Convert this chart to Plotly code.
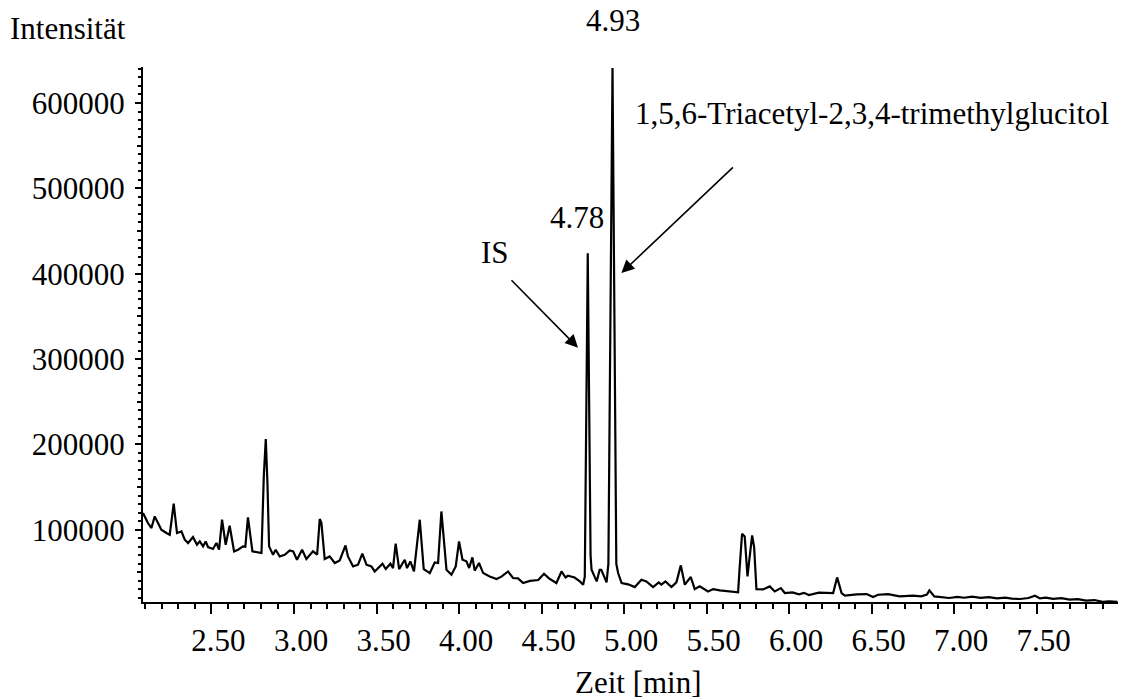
import plotly.graph_objects as go

# Chromatogram (GC) – retention time in minutes vs. detector intensity
zeit_min = [
    2.085, 2.115, 2.136, 2.156, 2.176, 2.196, 2.227, 2.247, 2.271, 2.291,
    2.318, 2.338, 2.358, 2.388, 2.412, 2.429, 2.449, 2.465, 2.479, 2.509,
    2.530, 2.546, 2.564, 2.586, 2.610, 2.637, 2.661, 2.691, 2.705, 2.721,
    2.748, 2.772, 2.803, 2.817, 2.829, 2.839, 2.849, 2.873, 2.889, 2.913,
    2.944, 2.974, 2.995, 3.018, 3.049, 3.075, 3.115, 3.140, 3.156, 3.166,
    3.186, 3.216, 3.247, 3.277, 3.312, 3.327, 3.358, 3.388, 3.414, 3.439,
    3.469, 3.489, 3.536, 3.556, 3.584, 3.600, 3.616, 3.637, 3.671, 3.685,
    3.705, 3.727, 3.762, 3.786, 3.823, 3.853, 3.873, 3.893, 3.924, 3.954,
    3.980, 4.000, 4.021, 4.045, 4.061, 4.081, 4.095, 4.121, 4.146, 4.186,
    4.227, 4.257, 4.297, 4.327, 4.358, 4.388, 4.430, 4.480, 4.515, 4.545,
    4.590, 4.621, 4.645, 4.660, 4.700, 4.732, 4.752, 4.762, 4.780, 4.797,
    4.803, 4.834, 4.852, 4.862, 4.894, 4.905, 4.930, 4.953, 4.964, 4.985,
    5.025, 5.065, 5.105, 5.135, 5.176, 5.210, 5.226, 5.251, 5.287, 5.317,
    5.344, 5.368, 5.404, 5.428, 5.458, 5.509, 5.540, 5.580, 5.661, 5.691,
    5.701, 5.715, 5.731, 5.748, 5.758, 5.776, 5.788, 5.802, 5.842, 5.883,
    5.913, 5.950, 5.974, 6.020, 6.060, 6.090, 6.120, 6.180, 6.267, 6.291,
    6.318, 6.338, 6.410, 6.470, 6.509, 6.539, 6.600, 6.670, 6.750, 6.800,
    6.835, 6.850, 6.880, 6.930, 6.970, 7.020, 7.060, 7.110, 7.160, 7.210,
    7.260, 7.310, 7.350, 7.400, 7.450, 7.490, 7.520, 7.555, 7.600, 7.650,
    7.700, 7.750, 7.800, 7.850, 7.900, 7.940, 7.990,
]
intensitaet = [
    119600, 107800, 102000, 115600, 107800, 100000, 96100, 94100, 130500, 96100,
    98000, 88300, 84400, 91400, 82400, 86300, 80500, 86300, 79700, 77400,
    84400, 76600, 111700, 82400, 104700, 74600, 76600, 80500, 80000, 114400,
    74600, 73400, 72700, 162500, 206300, 154700, 80500, 70700, 76600, 68700,
    70700, 75700, 74600, 64800, 76600, 65600, 74600, 70700, 112500, 108000,
    65600, 68700, 61000, 64000, 81600, 68700, 57000, 59000, 71900, 59000,
    57000, 51100, 60200, 54000, 60200, 55000, 83600, 53900, 64800, 55000,
    62900, 51100, 111700, 53900, 49200, 61700, 61000, 121400, 53100, 47300,
    57000, 86300, 64800, 63000, 55100, 67500, 52000, 61000, 49200, 45300,
    42200, 45000, 51100, 43400, 43000, 37500, 40000, 41000, 48400, 43000,
    37500, 51100, 44000, 46000, 44000, 39400, 35600, 45000, 424000, 70000,
    53100, 39400, 53100, 53100, 38300, 60000, 641000, 60000, 49200, 37500,
    36000, 32800, 41400, 39400, 32800, 38300, 35600, 39400, 32800, 38300,
    58200, 35600, 44600, 30400, 33600, 27700, 30400, 28900, 27700, 26600,
    57000, 95300, 92200, 45300, 63000, 93300, 80000, 30400, 30000, 33600,
    27700, 31600, 25800, 26600, 24200, 26000, 23400, 26200, 25800, 44100,
    25800, 22700, 24200, 24600, 21100, 23800, 24600, 21900, 22700, 22000,
    24000, 28900, 21900, 21300, 20000, 21200, 20300, 21500, 20200, 21000,
    19600, 20300, 19200, 18800, 20000, 22700, 19500, 20500, 19000, 19800,
    18000, 18600, 17000, 17600, 15500, 16200, 15600,
]

x_range = [2.085, 7.993]
y_range = [15300, 642200]
x_tick_labels = ["2.50", "3.00", "3.50", "4.00", "4.50", "5.00",
                 "5.50", "6.00", "6.50", "7.00", "7.50"]
x_tick_values = [2.5 + 0.5 * i for i in range(len(x_tick_labels))]
y_tick_values = [100000, 200000, 300000, 400000, 500000, 600000]
y_mid_ticks = [50000, 150000, 250000, 350000, 450000, 550000]

# labelled peaks: retention time and peak name
rt_is = 4.78
rt_target = 4.93
target_name = "1,5,6-Triacetyl-2,3,4-trimethylglucitol"

FONT = "Liberation Serif, Times New Roman, serif"
FS = 31

fig = go.Figure()
fig.add_trace(go.Scatter(
    x=zeit_min, y=intensitaet, mode="lines",
    line=dict(color="black", width=2.2), hoverinfo="x+y", showlegend=False,
))
# empty trace so the helper axis for the half-step ticks is drawn
fig.add_trace(go.Scatter(x=[], y=[], yaxis="y2", showlegend=False))

fig.update_layout(
    width=1130, height=700,
    margin=dict(l=143, r=12, t=67, b=98),
    paper_bgcolor="white", plot_bgcolor="white",
    font=dict(family=FONT, size=FS, color="black"),
    xaxis=dict(
        range=x_range, showgrid=False, zeroline=False,
        showline=True, linecolor="black", linewidth=2,
        tickmode="array", tickvals=x_tick_values, ticktext=x_tick_labels,
        ticks="outside", ticklen=10, tickwidth=2, tickcolor="black",
        ticklabelshift=7, ticklabelstandoff=0,
        minor=dict(dtick=0.1, tick0=2.0, ticks="outside", ticklen=5,
                   tickwidth=2, tickcolor="black", showgrid=False),
    ),
    yaxis=dict(
        range=y_range, showgrid=False, zeroline=False,
        showline=True, linecolor="black", linewidth=2,
        tickmode="array", tickvals=y_tick_values, tickformat="d",
        ticks="outside", ticklen=6, tickwidth=2, tickcolor="black",
        ticklabelstandoff=4,
        minor=dict(dtick=10000, tick0=0, ticks="outside", ticklen=3,
                   tickwidth=1.5, tickcolor="black", showgrid=False),
    ),
    yaxis2=dict(
        overlaying="y", matches="y", side="left", anchor="x",
        showgrid=False, zeroline=False, showline=False,
        tickmode="array", tickvals=y_mid_ticks, showticklabels=False,
        ticks="outside", ticklen=5, tickwidth=2, tickcolor="black",
    ),
)

annotations = [
    dict(text="Intensität", xref="paper", yref="paper", x=-0.0773, y=1.0716,
         showarrow=False, xanchor="center", yanchor="middle"),
    dict(text="Zeit [min]", xref="paper", yref="paper", x=0.5086, y=-0.1508,
         showarrow=False, xanchor="center", yanchor="middle"),
    dict(text=f"{rt_target:.2f}", xref="x", yref="paper", x=rt_target, y=1.086,
         showarrow=False, xanchor="center", yanchor="middle"),
    dict(text=f"{rt_is:.2f}", xref="x", yref="paper", x=4.713, y=0.719,
         showarrow=False, xanchor="center", yanchor="middle"),
    dict(text="IS", xref="x", yref="paper", x=4.216, y=0.653,
         showarrow=False, xanchor="center", yanchor="middle"),
    dict(text=target_name, xref="x", yref="paper", x=6.501, y=0.913,
         showarrow=False, xanchor="center", yanchor="middle"),
    # arrow pointing at the internal standard peak
    dict(text="", x=4.721, y=313300, xref="x", yref="y",
         ax=-68, ay=-69, showarrow=True, arrowhead=2, arrowsize=1.6,
         arrowwidth=1.6, arrowcolor="black"),
    # arrow pointing at the target compound peak
    dict(text="", x=4.984, y=400800, xref="x", yref="y",
         ax=113, ay=-107, showarrow=True, arrowhead=2, arrowsize=1.6,
         arrowwidth=1.6, arrowcolor="black"),
]
fig.update_layout(annotations=annotations)

fig.write_html("out.html")
